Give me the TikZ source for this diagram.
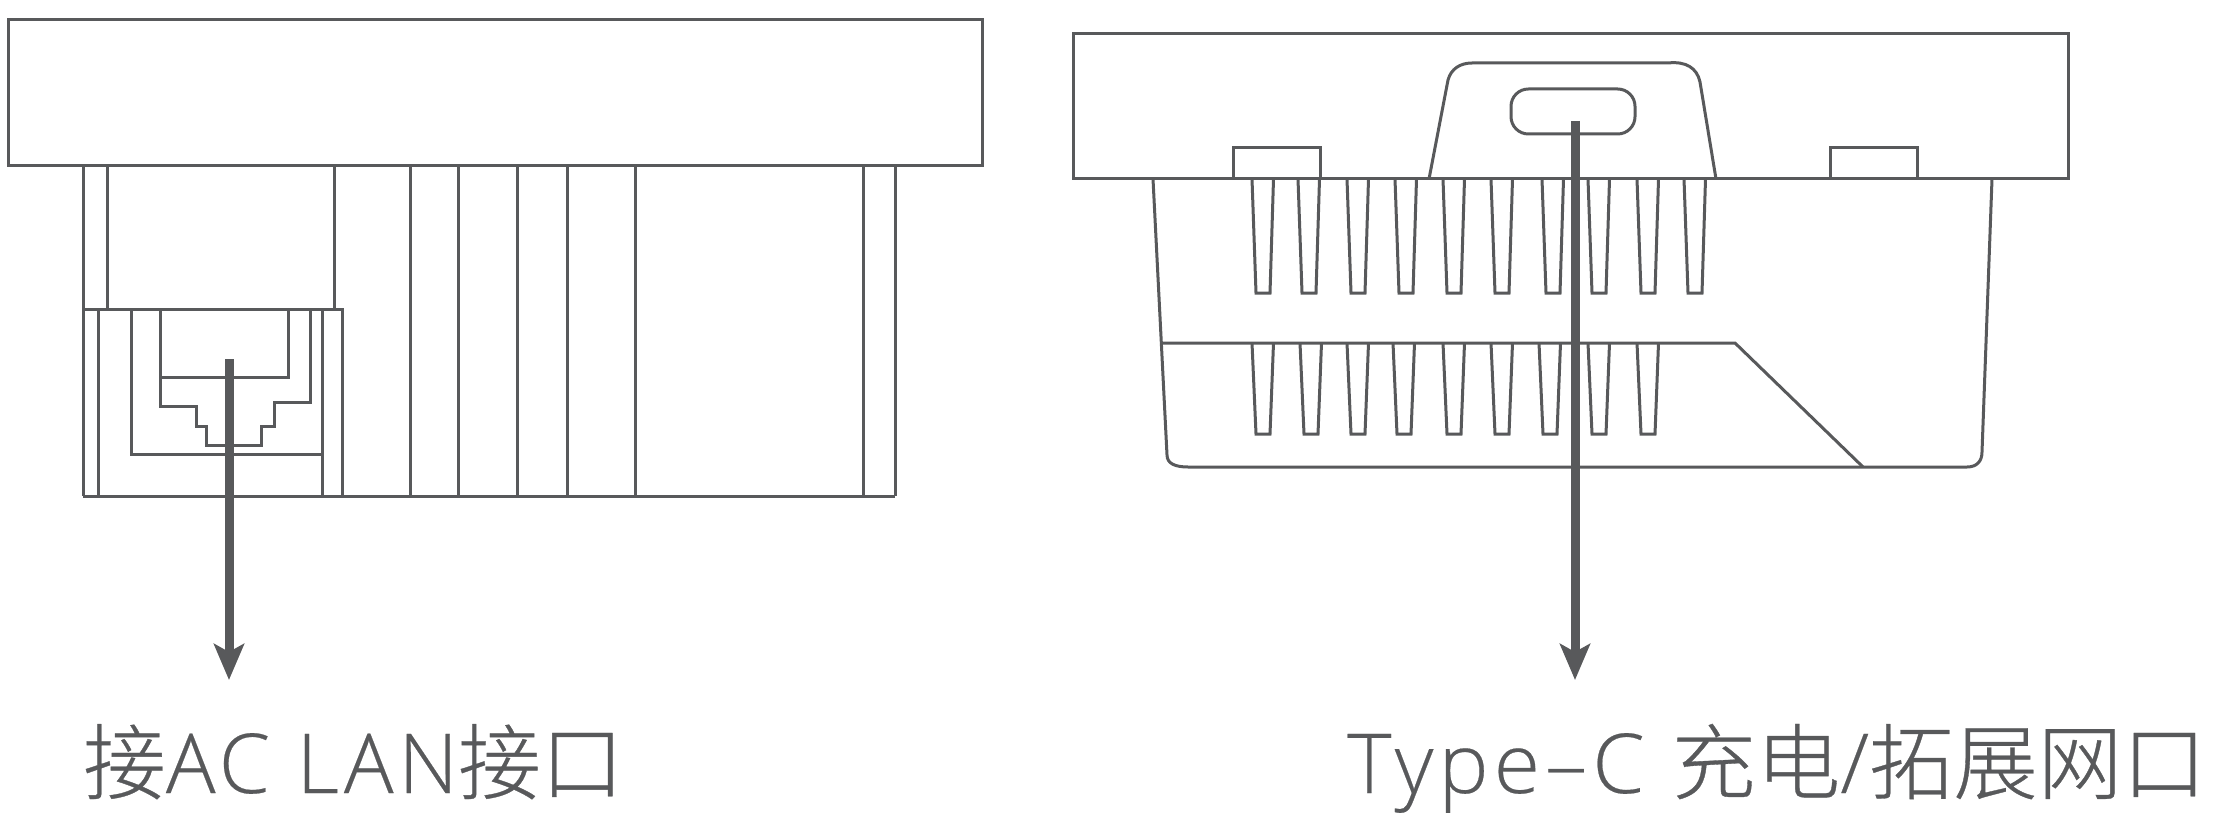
\documentclass[tikz,border=0pt]{standalone}
\usepackage{fontspec}
\setmainfont[LetterSpace=6,FakeBold=0.25]{Open Sans Light}
\newfontfamily\cjk[FakeBold=0.4]{Noto Sans CJK SC Light}
\usetikzlibrary{arrows.meta}
\definecolor{ink}{HTML}{58595B}
\tikzset{
  outline/.style={draw=ink,line width=2.25pt,line join=miter},
  thinline/.style={draw=ink,line width=2.25pt},
  pointer/.style={draw=ink,line width=6.75pt,-{Stealth[length=27pt,width=22.5pt,inset=6pt]}},
  caption/.style={text=ink,anchor=base west,inner sep=0pt,font=\fontsize{62pt}{64pt}\selectfont}
}
\begin{document}
\begin{tikzpicture}[x=0.75pt,y=-0.75pt]
\useasboundingbox (0,0) rectangle (2227,820);
% left device
\draw[outline] (8,20) rectangle (982,166);
\foreach \vx in {83,410,458,517,567,635,863,895}
  \draw[outline] (\vx,166) -- (\vx,496);
\draw[outline] (107,166) -- (107,309);
\draw[outline] (334,166) -- (334,309);
\draw[outline] (83,496) -- (895,496);
\draw[outline] (83,309) -- (342,309) -- (342,496);
\draw[outline] (98,309) -- (98,496);
\draw[outline] (322,309) -- (322,496);
\draw[outline] (131,309) -- (131,454) -- (322,454);
\draw[outline] (160,309) -- (160,406) -- (196,406) -- (196,426) -- (206,426) -- (206,445) -- (261,445) -- (261,426) -- (274,426) -- (274,402) -- (310,402) -- (310,309);
\draw[outline] (160,377) -- (288,377) -- (288,309);
% right device
\draw[outline] (1073,34) rectangle (2068,179);
\draw[outline] (1153,179) -- (1167,455) .. controls (1167,464) and (1176,467) .. (1188,467) -- (1967,467) .. controls (1977,467) and (1982,461) .. (1982,452) -- (1992,179);
\draw[outline] (1161,343) -- (1735,343) -- (1863,467);
\draw[outline] (1233,179) -- (1233,148) -- (1320,148) -- (1320,179);
\draw[outline] (1830,179) -- (1830,148) -- (1917,148) -- (1917,179);
\draw[outline] (1429,179) -- (1448,80) .. controls (1451,69) and (1460,63) .. (1472,63) -- (1668,63) .. controls (1686,61) and (1697,68) .. (1700,82) -- (1716,179);
\draw[outline,rounded corners=13pt] (1511,89) rectangle (1635,134);
\foreach \tx in {1252,1298,1347,1395,1443,1491,1542,1588,1637,1684}
  \draw[thinline] (\tx,179) -- (\tx+4,293) -- (\tx+18,293) -- (\tx+21.5,179);
\foreach \tx in {1252,1300,1347,1393,1443,1491,1539,1588,1637}
  \draw[thinline] (\tx,343) -- (\tx+4,434) -- (\tx+18,434) -- (\tx+21.5,343);
% pointers
\coordinate (lanstart) at (229,359);
\coordinate (lanend) at (229,680);
\coordinate (typecstart) at (1575,121);
\coordinate (typecend) at (1575,680);
\draw[pointer] (lanstart) -- (lanend);
\draw[pointer] (typecstart) -- (typecend);
% captions
\node[caption] (lanlabel) at (83,793) {{\cjk 接}AC LAN{\cjk 接口}};
\node[caption,xscale=1.02,transform shape] (typeclabel) at (1347,793) {Type–C {\cjk 充电}/{\cjk 拓展网口}};
\end{tikzpicture}
\end{document}
